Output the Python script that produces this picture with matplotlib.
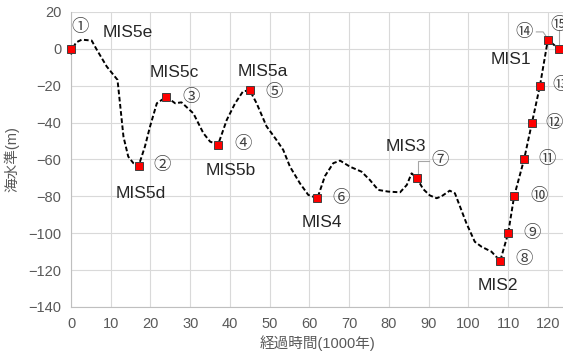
import matplotlib
matplotlib.use("Agg")
import matplotlib.pyplot as plt

plt.rcParams['font.family'] = ['Liberation Sans', 'Noto Sans CJK JP', 'DejaVu Sans']
plt.rcParams['axes.unicode_minus'] = True

# smoothed sea-level curve
curve_x = [0, 0.6, 1.3, 2.7, 5.2, 6.5, 9, 11.7, 12.3, 13.2, 14.4, 15.7, 17,
           18.6, 19.9, 21.6, 24, 26.2, 27.8, 30.8, 33.3, 35, 37, 39.2, 41.3,
           43.3, 45, 46.7, 49.2, 51.7, 53.4, 55.1, 57.6, 59.7, 62, 63.9, 66,
           67.7, 70.2, 73.1, 75.2, 77.3, 79.8, 82.8, 84.5, 85.7, 87, 88.6,
           90.3, 92, 93.2, 95.3, 96.6, 97.9, 99.5, 101.6, 103.3, 105.8, 108,
           110, 111.5, 114, 116, 118, 120, 122.7]
curve_y = [-3, 1, 3.5, 5, 4.5, -0.5, -9.6, -16.8, -29, -47.6, -58.4, -62, -63.5,
           -53, -42, -29.5, -26, -29.5, -29, -35, -45.7, -50.3, -52, -38.5, -29.5,
           -23, -22.5, -29.5, -42, -49.4, -54.8, -63.9, -72.9, -79.2, -81, -69, -62,
           -60.6, -63.9, -66.6, -71.1, -76.5, -77.4, -77.8, -73.8, -67.5, -70, -76,
           -79.5, -81, -80, -76.9, -78.3, -85.6, -94.6, -104.6, -107.3, -110, -115,
           -100, -80, -60, -40, -20, 5, 0]

# marked points 1..15
mark_x = [0, 17, 24, 37, 45, 62, 87, 108, 110, 111.5, 114, 116, 118, 120, 122.7]
mark_y = [0, -63.5, -26, -52, -22.5, -81, -70, -115, -100, -80, -60, -40, -20, 5, 0]
mark_names = ['①', '②', '③', '④', '⑤', '⑥', '⑦', '⑧', '⑨', '⑩',
              '⑪', '⑫', '⑬', '⑭', '⑮']

mis_names = ['MIS5e', 'MIS5c', 'MIS5a', 'MIS5b', 'MIS5d', 'MIS4', 'MIS3', 'MIS2', 'MIS1']

x_ticks = [0, 10, 20, 30, 40, 50, 60, 70, 80, 90, 100, 110, 120]
y_ticks = [20, 0, -20, -40, -60, -80, -100, -120, -140]

# label placement
mark_pos = [(2.3, 12.1), (22.8, -63), (30.1, -25.9), (43.2, -51.7), (51.1, -23.2),
            (67.9, -80.7), (92.8, -60.2), (114, -114), (115.9, -99.7), (117.8, -79.6),
            (119.7, -59.9), (121.6, -40), (123.4, -19.7), (114, 9.4), (122.9, 13)]
mis_pos = [(14.3, 8.7), (25.9, -13), (48.3, -12.5), (40.3, -65.7), (17.6, -78.7),
           (63.1, -94.4), (84.3, -53), (107.3, -128.4), (110.6, -5.6)]

fig = plt.figure(figsize=(5.63, 3.54), dpi=100)
ax = fig.add_axes([71 / 563, 1 - 307 / 354, 492 / 563, 295 / 354])

ax.plot(curve_x, curve_y, color='black', lw=1.4, linestyle=(0, (2.4, 1.3)),
        zorder=3, clip_on=False)
ax.plot(mark_x, mark_y, linestyle='none', marker='s', markersize=6.2,
        markerfacecolor='#ff0000', markeredgecolor='#404040', markeredgewidth=0.7,
        zorder=4, clip_on=False)

for name, (x, y) in zip(mark_names, mark_pos):
    ax.text(x, y, name, fontsize=12.5, color='#404040', ha='center', va='center',
            family=['Noto Sans CJK JP', 'DejaVu Sans'], clip_on=False)
for name, (x, y) in zip(mis_names, mis_pos):
    ax.text(x, y, name, fontsize=12.5, color='#262626', ha='center', va='center')

# leader lines
ax.plot([87.3, 87.3, 90.2], [-68, -61, -61], color='#a6a6a6', lw=0.8, zorder=2)
ax.plot([117.1, 118.8, 119.8], [9.2, 9.2, 6], color='#a6a6a6', lw=0.8, zorder=2)
ax.plot([122.8, 122.8], [10, 1.5], color='#a6a6a6', lw=0.8, zorder=2)

ax.set_xlim(0, 123.8)
ax.set_ylim(-140, 20)
ax.set_xticks(x_ticks)
ax.set_yticks(y_ticks)
ax.grid(True, color='#d9d9d9', lw=0.8)
ax.set_axisbelow(True)
for s in ['top', 'right']:
    ax.spines[s].set_visible(False)
for s in ['left', 'bottom']:
    ax.spines[s].set_color('#bfbfbf')
    ax.spines[s].set_linewidth(0.8)
ax.tick_params(length=0, labelsize=10.5, labelcolor='#595959', pad=7)

ax.set_xlabel('経過時間(1000年)', fontsize=10.5, color='#595959', labelpad=3)
ax.set_ylabel('海水準(m)', fontsize=10.5, color='#595959', labelpad=6)

fig.savefig('out.png', dpi=100)
